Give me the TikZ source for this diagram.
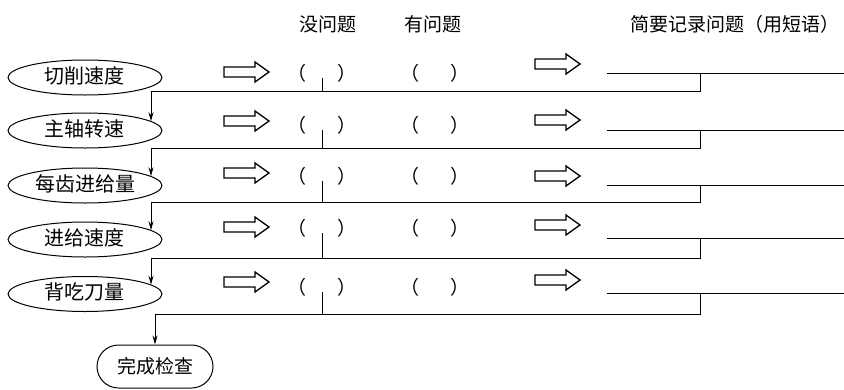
\documentclass[tikz,border=0pt]{standalone}
\usepackage{fontspec}
\newfontfamily\cjk{Noto Sans CJK SC}
\usetikzlibrary{shapes.geometric,shapes.misc,arrows.meta,calc}
\begin{document}
\begin{tikzpicture}[x=1pt,y=-1pt,
  every node/.style={font=\cjk\fontsize{19}{19}\selectfont},
  ell/.style={ellipse, draw, line width=1pt, minimum width=154pt, minimum height=35pt, inner sep=0pt, text height=14pt, text depth=3pt, font=\cjk\fontsize{20}{20}\selectfont},
  done/.style={rounded rectangle, draw, line width=1pt, minimum width=116pt, minimum height=43pt, inner sep=0pt},
  lbl/.style={inner sep=0pt},
  conn/.style={line width=0.9pt},
  darr/.style={conn, -{Stealth[length=9pt,width=5pt,inset=3pt]}},
  barrow/.pic={\draw[line width=1.3pt, line join=miter] (0,-5)--(31,-5)--(31,-10)--(45,0)--(31,10)--(31,5)--(0,5)--cycle;},
]
\useasboundingbox (0,0) rectangle (844,389);
% headers
\node[lbl] (h1) at (328,24) {没问题};
\node[lbl] (h2) at (433,24) {有问题};
\node[lbl] (h3) at (735,24.5) {简要记录问题（用短语）};
% rows
\foreach \i/\ye/\ya/\yp/\yr/\yl/\yb/\xb/\t in {
 1/77.5/72/73.5/64/73/91/151/切削速度,
 2/130.5/121/125/120/130/148/151/主轴转速,
 3/185.5/173/176.5/176/185/202/151/每齿进给量,
 4/239.5/227/228.5/225/238/258/151/进给速度,
 5/294/282/287.5/280/293/314/155/背吃刀量}{
  \node[ell] (e\i) at (85,\ye) {\t};
  \pic at (224,\ya) {barrow};
  \node[lbl] (pa\i) at (322,\yp) {（\hspace{31pt}）};
  \node[lbl] (pb\i) at (435,\yp) {（\hspace{31pt}）};
  \pic at (535,\yr) {barrow};
  \coordinate (b\i) at (\xb,\yb);
  \coordinate (c\i) at (700,\yb);
  \coordinate (r\i) at (700,\yl);
  \coordinate (s\i) at (607,\yl);
  \coordinate (t\i) at (844,\yl);
  \draw[conn] (b\i) -- (c\i) -- (r\i);
  \draw[conn] (s\i) -- (t\i);
  \draw[conn] ([yshift=-4.5pt]pa\i.center) -- (pa\i.center |- b\i);
}
\foreach \i [evaluate=\i as \j using int(\i+1)] in {1,...,4}{
  \draw[darr] (b\i) -- (b\i |- e\j.8);
}
\node[done] (fin) at (155,366.5) {完成检查};
\draw[darr] (b5) -- (fin.north);
\end{tikzpicture}
\end{document}
